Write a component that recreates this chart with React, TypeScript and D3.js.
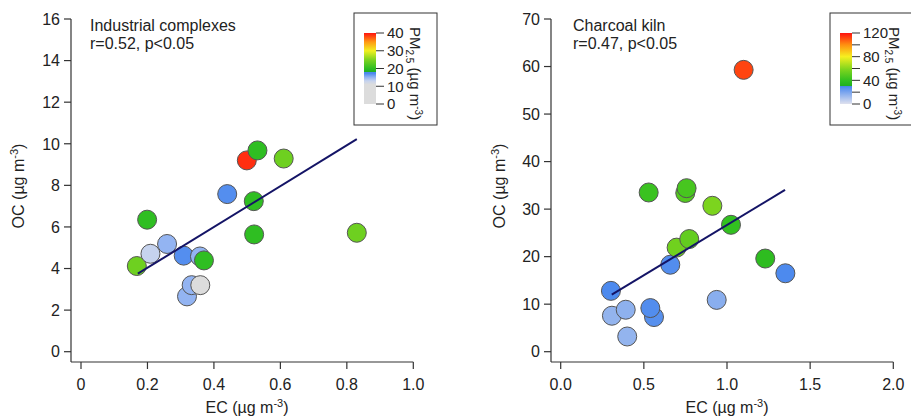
import React from 'react';
import * as d3 from 'd3';

// ---------- Data ----------
const leftEC = [0.168, 0.199, 0.209, 0.259, 0.309, 0.358, 0.370, 0.319, 0.333, 0.359, 0.44, 0.52, 0.521, 0.499, 0.531, 0.61, 0.83];
const leftOC = [4.12, 6.35, 4.71, 5.18, 4.62, 4.58, 4.39, 2.66, 3.2, 3.2, 7.58, 7.24, 5.64, 9.2, 9.68, 9.29, 5.72];
const leftPM = [24, 20, 13, 15, 17, 15, 20, 15, 15, 8, 17, 20, 20, 39, 20, 24, 24];

const rightEC = [0.308, 0.391, 0.400, 0.302, 0.561, 0.539, 0.659, 0.938, 1.351, 1.230, 1.024, 0.697, 0.773, 0.912, 0.529, 0.749, 0.757, 1.100];
const rightOC = [7.57, 8.83, 3.2, 12.8, 7.29, 9.18, 18.3, 10.9, 16.5, 19.6, 26.7, 21.9, 23.7, 30.7, 33.5, 33.4, 34.4, 59.3];
const rightPM = [15, 16, 15, 29, 27, 28, 28, 17, 29, 38, 40, 55, 52, 58, 42, 48, 45, 112];

const leftFitX = [0.171, 0.830];
const leftFitY = [3.75, 10.22];
const rightFitX = [0.307, 1.349];
const rightFitY = [12.0, 34.05];

const leftXTicks = [0, 0.2, 0.4, 0.6, 0.8, 1.0];
const leftXTickLabels = ['0', '0.2', '0.4', '0.6', '0.8', '1.0'];
const leftYTicks = [0, 2, 4, 6, 8, 10, 12, 14, 16];
const rightXTicks = [0, 0.5, 1.0, 1.5, 2.0];
const rightXTickLabels = ['0.0', '0.5', '1.0', '1.5', '2.0'];
const rightYTicks = [0, 10, 20, 30, 40, 50, 60, 70];

const leftCbTicks = [0, 10, 20, 30, 40];
const leftCbLabels = ['0', '10', '20', '30', '40'];
const rightCbTicks = [0, 20, 40, 60, 80, 100, 120];
const rightCbLabels = ['0', '', '40', '', '80', '', '120'];

const leftCmapStops = [0, 11, 13, 15, 17.3, 17.8, 18.3, 20, 25, 30, 35, 40];
const leftCmapColors = ['#dcdcdc', '#dcdcdc', '#c6d3ee', '#93b4f2', '#4a88ee', '#4a88ee', '#20b020', '#2fbe22', '#7ed420', '#f2f020', '#ff9812', '#ff1410'];
const rightCmapStops = [0, 29.5, 31, 40, 58, 80, 100, 120];
const rightCmapColors = ['#dfe1ee', '#4a88ee', '#20b020', '#32c020', '#7cd41e', '#f6f020', '#ff9010', '#ff1210'];

const labelA1 = 'Industrial complexes';
const labelA2 = 'r=0.52, p<0.05';
const labelB1 = 'Charcoal kiln';
const labelB2 = 'r=0.47, p<0.05';

const FONT = 'Arial, "Liberation Sans", Helvetica, sans-serif';
const AX = '#333';
const TXT = '#222';

type PanelProps = {
  ec: number[]; oc: number[]; pm: number[];
  fitX: number[]; fitY: number[];
  xDomain: [number, number]; xRange: [number, number];
  yDomain: [number, number]; yRange: [number, number];
  axisX: number; axisY: number; axisXEnd: number;
  xTicks: number[]; xTickLabels: string[]; yTicks: number[];
  title1: string; title2: string; titleX: number;
  yLabelX: number; xLabelX: number;
  cmapStops: number[]; cmapColors: string[]; cbMax: number;
  cbTicks: number[]; cbLabels: string[];
  boxX: number; boxW: number; cbX: number; legTitleX: number;
  gradId: string;
};

function Panel(p: PanelProps) {
  const x = d3.scaleLinear().domain(p.xDomain).range(p.xRange);
  const y = d3.scaleLinear().domain(p.yDomain).range(p.yRange);
  const color = d3.scaleLinear<string>().domain(p.cmapStops).range(p.cmapColors).clamp(true);
  const cbY = d3.scaleLinear().domain([0, p.cbMax]).range([104, 33]);
  const line = d3.line<number>().x((_, i) => x(p.fitX[i])).y((_, i) => y(p.fitY[i]));
  const pts = p.ec.map((e, i) => ({ e, o: p.oc[i], pm: p.pm[i] }));
  const yTop = y(p.yDomain[1]);
  const fs = 16;

  return (
    <g fontFamily={FONT}>
      <defs>
        <linearGradient id={p.gradId} x1="0" y1="1" x2="0" y2="0">
          {p.cmapStops.map((s, i) => (
            <stop key={i} offset={s / p.cbMax} stopColor={p.cmapColors[i]} />
          ))}
        </linearGradient>
      </defs>
      {/* axes */}
      <line x1={p.axisX} x2={p.axisX} y1={yTop} y2={p.axisY} stroke={AX} strokeWidth={1.2} />
      <line x1={p.axisX} x2={p.axisXEnd} y1={p.axisY} y2={p.axisY} stroke={AX} strokeWidth={1.2} />
      {p.yTicks.map((t) => (
        <g key={'y' + t}>
          <line x1={p.axisX - 7} x2={p.axisX} y1={y(t)} y2={y(t)} stroke={AX} strokeWidth={1.2} />
          <text x={p.axisX - 11} y={y(t)} dy="0.36em" textAnchor="end" fontSize={fs} fill={TXT}>{t}</text>
        </g>
      ))}
      {p.xTicks.map((t, i) => (
        <g key={'x' + t}>
          <line x1={x(t)} x2={x(t)} y1={p.axisY} y2={p.axisY + 7} stroke={AX} strokeWidth={1.2} />
          <text x={x(t)} y={390} textAnchor="middle" fontSize={fs} fill={TXT}>{p.xTickLabels[i]}</text>
        </g>
      ))}
      {/* axis labels */}
      <text x={p.xLabelX} y={413} textAnchor="middle" fontSize={fs} fill={TXT}>
        EC (µg m<tspan dy={-6} fontSize={11}>-3</tspan><tspan dy={6}>)</tspan>
      </text>
      <text transform={`translate(${p.yLabelX},186) rotate(-90)`} textAnchor="middle" fontSize={fs} fill={TXT}>
        OC (µg m<tspan dy={-6} fontSize={11}>-3</tspan><tspan dy={6}>)</tspan>
      </text>
      {/* titles */}
      <text x={p.titleX} y={31} fontSize={fs} fill={TXT}>{p.title1}</text>
      <text x={p.titleX} y={49} fontSize={fs} fill={TXT}>{p.title2}</text>
      {/* points */}
      {pts.map((d, i) => (
        <circle key={i} cx={x(d.e)} cy={y(d.o)} r={9.5} fill={color(d.pm)} stroke="#555" strokeWidth={1} />
      ))}
      {/* fit line */}
      <path d={line([0, 1]) || ''} stroke="#141466" strokeWidth={2} fill="none" />
      {/* legend */}
      <rect x={p.boxX} y={13} width={p.boxW} height={112} fill="white" stroke={AX} strokeWidth={1} />
      <rect x={p.cbX} y={33} width={12} height={71} fill={`url(#${p.gradId})`} />
      {p.cbTicks.map((t, i) => (
        <g key={'c' + t}>
          <line x1={p.cbX + 12} x2={p.cbX + 20} y1={cbY(t)} y2={cbY(t)} stroke={AX} strokeWidth={1} />
          {p.cbLabels[i] && (
            <text x={p.cbX + 23} y={cbY(t)} dy="0.36em" fontSize={15} fill={TXT}>{p.cbLabels[i]}</text>
          )}
        </g>
      ))}
      <text transform={`translate(${p.legTitleX},27) rotate(90)`} fontSize={15} fill={TXT}>
        PM<tspan dy={4} fontSize={10}>2.5</tspan><tspan dy={-4}> (µg m</tspan><tspan dy={-5} fontSize={10}>-3</tspan><tspan dy={5}>)</tspan>
      </text>
    </g>
  );
}

export default function App() {
  return (
    <svg width={911} height={419} style={{ position: 'absolute', left: 0, top: 0, background: 'white' }}>
      <rect x={0} y={0} width={911} height={419} fill="white" />
      <Panel
        ec={leftEC} oc={leftOC} pm={leftPM} fitX={leftFitX} fitY={leftFitY}
        xDomain={[0, 1]} xRange={[81, 413.3]} yDomain={[0, 16]} yRange={[351.7, 19]}
        axisX={71} axisY={362} axisXEnd={413.3}
        xTicks={leftXTicks} xTickLabels={leftXTickLabels} yTicks={leftYTicks}
        title1={labelA1} title2={labelA2} titleX={90}
        yLabelX={24} xLabelX={247}
        cmapStops={leftCmapStops} cmapColors={leftCmapColors} cbMax={40}
        cbTicks={leftCbTicks} cbLabels={leftCbLabels}
        boxX={354} boxW={83} cbX={364} legTitleX={410} gradId="gradL"
      />
      <Panel
        ec={rightEC} oc={rightOC} pm={rightPM} fitX={rightFitX} fitY={rightFitY}
        xDomain={[0, 2]} xRange={[560.7, 893.3]} yDomain={[0, 70]} yRange={[351.7, 19]}
        axisX={551} axisY={362} axisXEnd={893.3}
        xTicks={rightXTicks} xTickLabels={rightXTickLabels} yTicks={rightYTicks}
        title1={labelB1} title2={labelB2} titleX={573}
        yLabelX={505} xLabelX={727}
        cmapStops={rightCmapStops} cmapColors={rightCmapColors} cbMax={120}
        cbTicks={rightCbTicks} cbLabels={rightCbLabels}
        boxX={830} boxW={90} cbX={840} legTitleX={889} gradId="gradR"
      />
    </svg>
  );
}
